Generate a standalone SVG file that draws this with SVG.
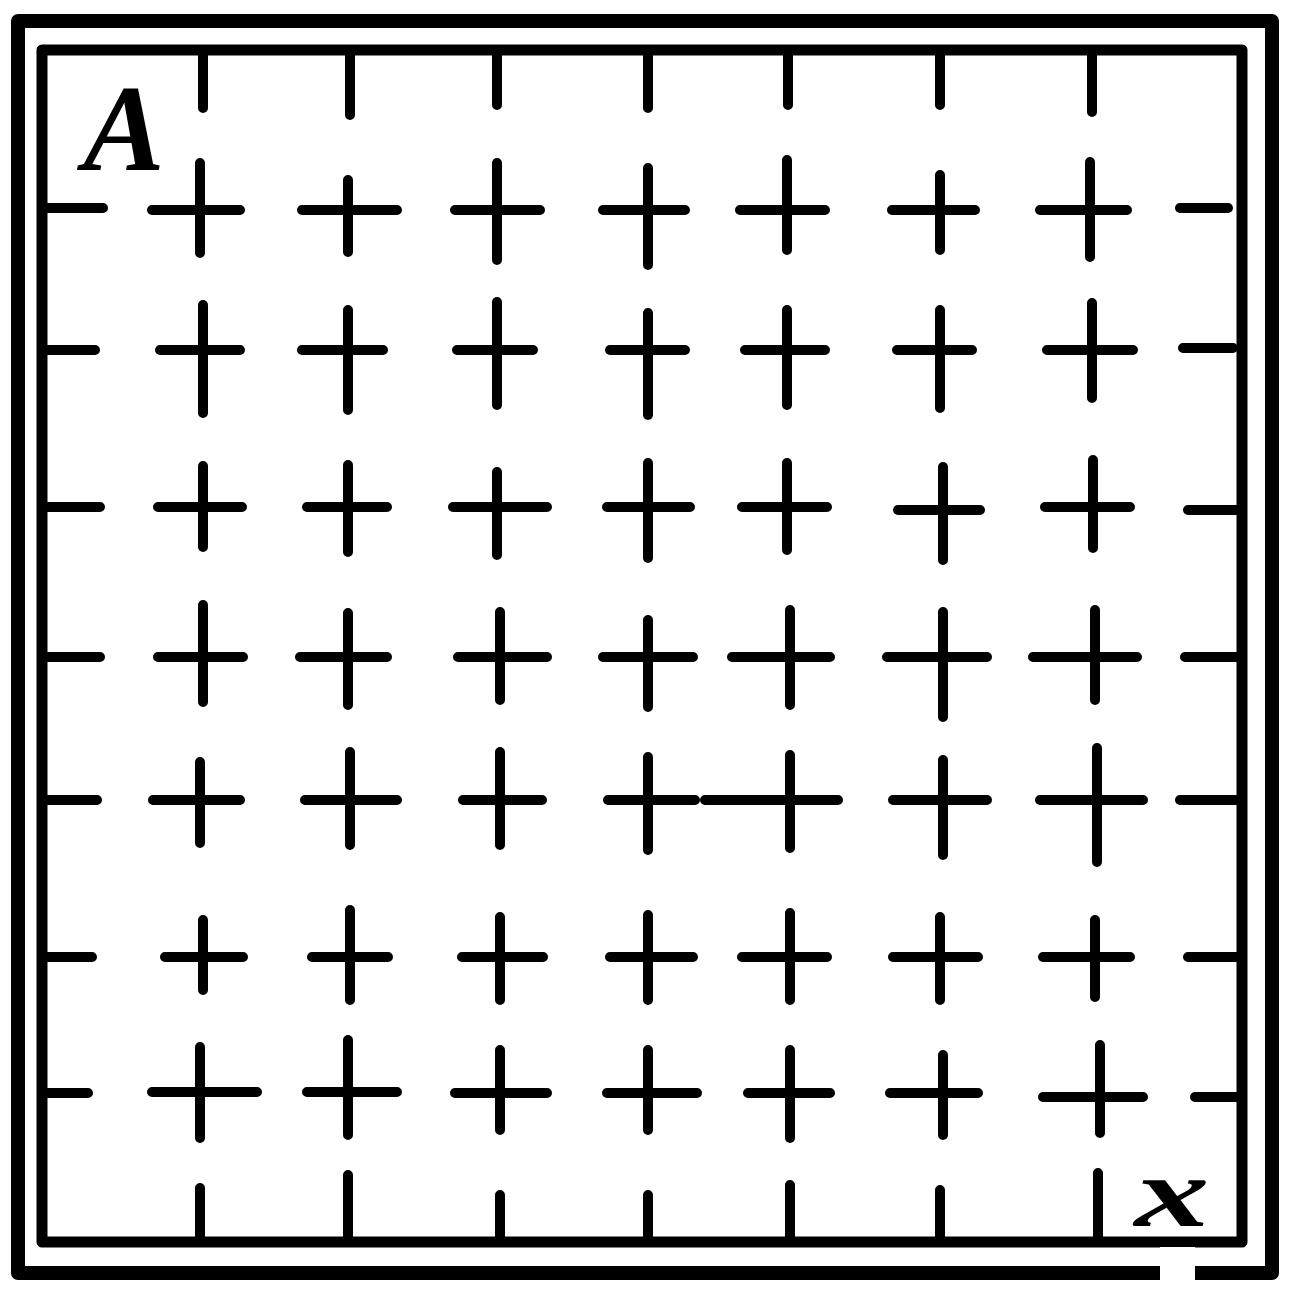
<svg xmlns="http://www.w3.org/2000/svg" width="1293" height="1293" viewBox="0 0 1293 1293">
<style>
.frame{fill:none;stroke:#000;stroke-linejoin:round}
.m{stroke:#000;stroke-width:10;stroke-linecap:round;fill:none}
.lbl{font-family:"Liberation Serif","DejaVu Serif",serif;fill:#000}
</style>
<rect width="1293" height="1293" fill="#fff"/>
<g id="frame">
<rect class="frame" x="18" y="21" width="1254" height="1252" stroke-width="14"/>
<rect class="frame" x="42" y="50" width="1200" height="1192" stroke-width="11"/>
<rect x="1160" y="1247" width="35" height="45" fill="#fff"/>
</g>
<g id="ticks-top" class="m">
<path d="M203 52V108M350 52V115M497 52V105M648 52V108M788 52V105M940 52V105M1092 52V112"/>
</g>
<g id="ticks-bottom" class="m">
<path d="M200 1188V1240M348 1175V1240M500 1195V1240M648 1195V1240M790 1185V1240M940 1190V1240M1098 1173V1240"/>
</g>
<g id="ticks-left" class="m">
<path d="M47 208H103M47 350H95M47 507H100M47 657H100M47 800H97M47 957H92M47 1093H88"/>
</g>
<g id="ticks-right" class="m">
<path d="M1180 208H1228M1183 348H1233M1188 510H1237M1185 657H1237M1180 800H1238M1188 957H1237M1195 1097H1238"/>
</g>
<g id="row1" class="m">
<path d="M152 210H240M200 163V253"/>
<path d="M302 210H397M348 180V252"/>
<path d="M455 210H540M497 163V260"/>
<path d="M603 210H685M648 168V265"/>
<path d="M740 210H825M787 160V250"/>
<path d="M892 210H975M940 175V250"/>
<path d="M1040 210H1127M1090 162V257"/>
</g>
<g id="row2" class="m">
<path d="M160 350H240M203 305V413"/>
<path d="M302 350H383M348 310V410"/>
<path d="M457 350H533M497 302V405"/>
<path d="M610 350H685M648 313V415"/>
<path d="M745 350H825M787 310V405"/>
<path d="M897 350H972M940 310V408"/>
<path d="M1047 350H1133M1092 303V398"/>
</g>
<g id="row3" class="m">
<path d="M158 507H242M203 466V547"/>
<path d="M307 507H387M348 465V552"/>
<path d="M453 507H547M497 472V555"/>
<path d="M607 507H690M648 463V558"/>
<path d="M742 507H827M787 463V550"/>
<path d="M898 510H980M943 467V560"/>
<path d="M1045 507H1130M1093 460V548"/>
</g>
<g id="row4" class="m">
<path d="M158 657H243M203 605V702"/>
<path d="M300 657H387M348 613V705"/>
<path d="M458 657H547M500 612V700"/>
<path d="M603 657H693M648 620V707"/>
<path d="M732 657H830M790 610V705"/>
<path d="M887 657H987M943 612V717"/>
<path d="M1033 657H1137M1095 610V700"/>
</g>
<g id="row5" class="m">
<path d="M153 800H240M200 762V843"/>
<path d="M305 800H397M350 752V845"/>
<path d="M463 800H542M500 752V845"/>
<path d="M608 800H695M648 757V850"/>
<path d="M705 800H838M790 755V848"/>
<path d="M893 800H987M943 760V855"/>
<path d="M1040 800H1143M1097 748V862"/>
</g>
<g id="row6" class="m">
<path d="M165 957H243M203 920V990"/>
<path d="M312 957H388M350 910V1000"/>
<path d="M462 957H543M500 917V1000"/>
<path d="M610 957H693M648 915V1000"/>
<path d="M742 957H827M790 913V1000"/>
<path d="M893 957H978M940 917V1000"/>
<path d="M1043 957H1130M1095 920V997"/>
</g>
<g id="row7" class="m">
<path d="M152 1092H257M200 1047V1138"/>
<path d="M307 1092H397M348 1040V1135"/>
<path d="M455 1093H547M500 1050V1130"/>
<path d="M607 1093H697M648 1050V1130"/>
<path d="M748 1093H830M790 1050V1138"/>
<path d="M890 1093H978M943 1055V1135"/>
<path d="M1043 1097H1143M1100 1045V1133"/>
</g>
<g id="labels">
<text class="lbl" x="124" y="170" font-size="122" font-style="italic" font-weight="bold" text-anchor="middle">A</text>
<text class="lbl" transform="translate(1172,1226) scale(1.5,1)" x="0" y="0" font-size="100" font-style="italic" font-weight="bold" text-anchor="middle">x</text>
</g>
</svg>
